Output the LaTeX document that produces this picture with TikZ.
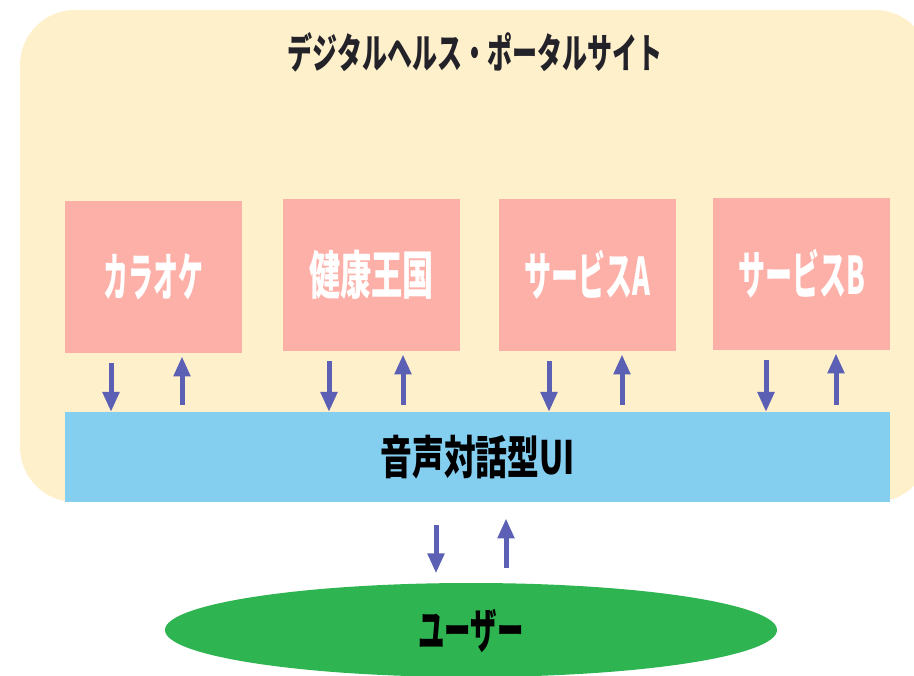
\documentclass[tikz,border=0pt]{standalone}
\usepackage{fontspec}
\newfontfamily\jp{Noto Sans CJK JP}
\usetikzlibrary{arrows.meta,calc}
\definecolor{cream}{RGB}{255,240,204}
\definecolor{pinkbox}{RGB}{252,176,168}
\definecolor{uiblue}{RGB}{132,206,240}
\definecolor{usergreen}{RGB}{46,180,80}
\definecolor{arrowblue}{RGB}{92,96,180}
\definecolor{titlegray}{RGB}{34,34,40}
\tikzset{
  svcbox/.style={fill=pinkbox, draw=none, minimum width=177pt, minimum height=152pt, anchor=north west, inner sep=0pt, text=white},
  arr/.style={draw=arrowblue, line width=5pt, -{Triangle[width=16pt,length=20pt]}},
}
\newcommand{\txt}[3]{{\jp\bfseries\fontsize{#1}{#1}\selectfont\scalebox{#2}[1]{#3}}}
\begin{document}
\begin{tikzpicture}[x=1pt,y=-1pt]
\useasboundingbox (0,0) rectangle (914,676);
\clip (0,0) rectangle (914,676);
\fill[white] (0,0) rectangle (914,676);
% background panel
\fill[cream, rounded corners=55pt] (20,10) rectangle (930,502);
\node[text=titlegray] (title) at (475,52) {\txt{41}{0.61}{デジタルヘルス・ポータルサイト}};
% service boxes
\node[svcbox] (k1) at (65,201) {\txt{52}{0.48}{カラオケ}};
\node[svcbox] (k2) at (283,199) {\txt{52}{0.6}{健康王国}};
\node[svcbox] (k3) at (499,199) {\txt{52}{0.52}{サービスA}};
\node[svcbox] (k4) at (713,198) {\txt{52}{0.52}{サービスB}};
% UI bar
\node[fill=uiblue, minimum width=825pt, minimum height=90pt, anchor=north west, inner sep=0pt] (ui) at (65,412) {\txt{46}{0.69}{音声対話型UI}};
% user ellipse
\fill[usergreen] (471,630) ellipse [x radius=306, y radius=47];
\node (usr) at (471,631) {\txt{48}{0.55}{ユーザー}};
% arrows box <-> UI
\foreach \b/\d/\u in {k1/46/117, k2/46/120, k3/50/123, k4/53/123}{
  \draw[arr] ([shift={(\d,10)}]\b.south west) coordinate (t) -- (t |- ui.north);
  \coordinate (s) at ([shift={(\u,0)}]\b.south west);
  \draw[arr] ([yshift=7pt]s |- ui.north) -- ([yshift=-3pt]s |- \b.south);
}
% arrows UI <-> user
\coordinate (ud) at (436,0);
\coordinate (uu) at (506,0);
\draw[arr] ([yshift=-23pt]ud |- ui.south) -- ([yshift=-71pt]ud |- ui.south);
\draw[arr] ([yshift=-66pt]uu |- ui.south) -- ([yshift=-16pt]uu |- ui.south);
\end{tikzpicture}
\end{document}
